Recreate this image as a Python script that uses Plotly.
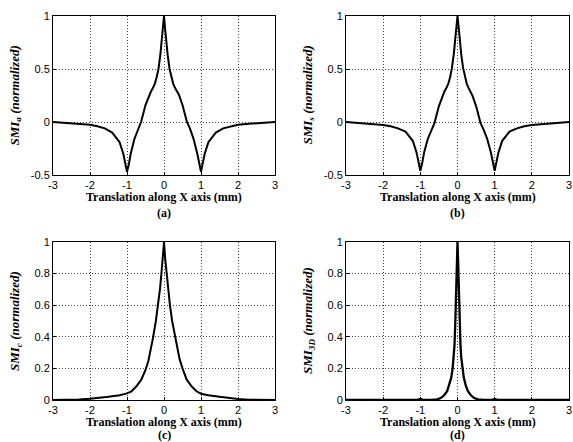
import plotly.graph_objects as go

W, H = 573, 442

# ---- data ----
xa = [-3.0, -2.6, -2.3, -2.0, -1.8, -1.6, -1.4, -1.3, -1.2, -1.1, -1.04, -1.0, -0.95, -0.9, -0.8, -0.7,
      -0.62, -0.5, -0.4, -0.35, -0.3, -0.25, -0.2, -0.15, -0.1, -0.06, -0.03, 0.0,
      0.03, 0.06, 0.1, 0.15, 0.2, 0.25, 0.3, 0.35, 0.4, 0.5, 0.62, 0.7, 0.8, 0.9, 0.95,
      1.0, 1.04, 1.1, 1.2, 1.3, 1.4, 1.6, 1.8, 2.0, 2.3, 2.6, 3.0]
ya = [0.0, -0.008, -0.016, -0.026, -0.04, -0.06, -0.10, -0.14, -0.19, -0.30, -0.40, -0.47, -0.40, -0.30, -0.16, -0.06,
      0.0, 0.16, 0.26, 0.29, 0.32, 0.36, 0.42, 0.50, 0.63, 0.76, 0.88, 1.0,
      0.88, 0.76, 0.63, 0.50, 0.42, 0.36, 0.32, 0.29, 0.26, 0.16, 0.0, -0.06, -0.16, -0.30, -0.40,
      -0.47, -0.40, -0.30, -0.19, -0.14, -0.10, -0.06, -0.04, -0.026, -0.016, -0.008, 0.0]

xb = [-3.0, -2.6, -2.3, -2.0, -1.8, -1.6, -1.4, -1.3, -1.2, -1.1, -1.04, -1.0, -0.95, -0.9, -0.8, -0.7,
      -0.62, -0.5, -0.4, -0.35, -0.3, -0.25, -0.2, -0.15, -0.1, -0.06, -0.03, 0.0,
      0.03, 0.06, 0.1, 0.15, 0.2, 0.25, 0.3, 0.35, 0.4, 0.5, 0.62, 0.7, 0.8, 0.9, 0.95,
      1.0, 1.04, 1.1, 1.2, 1.3, 1.4, 1.6, 1.8, 2.0, 2.3, 2.6, 3.0]
yb = [0.0, -0.01, -0.018, -0.028, -0.04, -0.06, -0.09, -0.13, -0.18, -0.29, -0.39, -0.46, -0.39, -0.29, -0.16, -0.07,
      -0.01, 0.15, 0.25, 0.29, 0.32, 0.36, 0.42, 0.51, 0.64, 0.78, 0.90, 1.0,
      0.90, 0.78, 0.64, 0.51, 0.42, 0.36, 0.32, 0.29, 0.25, 0.15, -0.01, -0.07, -0.16, -0.29, -0.39,
      -0.46, -0.39, -0.29, -0.18, -0.13, -0.09, -0.06, -0.04, -0.028, -0.018, -0.01, 0.0]

xc = [-3.0, -2.6, -2.3, -2.0, -1.8, -1.5, -1.2, -1.0, -0.88, -0.75, -0.61, -0.5, -0.42, -0.36, -0.3,
      -0.22, -0.16, -0.11, -0.07, -0.03, 0.0,
      0.03, 0.07, 0.11, 0.16, 0.22, 0.3, 0.36, 0.42, 0.5, 0.61, 0.75, 0.88, 1.0, 1.2, 1.5, 1.8, 2.0,
      2.3, 2.6, 3.0]
yc = [0.0, 0.0, 0.003, 0.008, 0.012, 0.02, 0.03, 0.042, 0.055, 0.085, 0.13, 0.19, 0.25, 0.31, 0.39,
      0.50, 0.60, 0.70, 0.80, 0.90, 1.0,
      0.90, 0.80, 0.70, 0.60, 0.50, 0.40, 0.31, 0.26, 0.20, 0.13, 0.085, 0.055, 0.04, 0.03, 0.02, 0.011, 0.007,
      0.002, 0.0, 0.0]

xd = [-3.0, -1.5, -1.1, -1.0, -0.9, -0.7, -0.55, -0.45, -0.36, -0.28, -0.22, -0.17, -0.13, -0.1,
      -0.08, -0.06, -0.04, -0.02, 0.0,
      0.02, 0.04, 0.06, 0.08, 0.1, 0.13, 0.17, 0.22, 0.28, 0.36, 0.45, 0.55, 0.7, 0.9, 1.0, 1.1, 1.5, 3.0]
yd = [0.0, 0.0, 0.0, 0.006, 0.0, 0.0, 0.004, 0.012, 0.03, 0.055, 0.094, 0.14, 0.20, 0.27,
      0.35, 0.48, 0.65, 0.85, 1.0,
      0.85, 0.65, 0.48, 0.35, 0.27, 0.20, 0.14, 0.094, 0.055, 0.03, 0.012, 0.004, 0.0, 0.0, 0.006, 0.0, 0.0, 0.0]

x_ticks = [-3, -2, -1, 0, 1, 2, 3]
x_ticktext = ["-3", "-2", "-1", "0", "1", "2", "3"]
y_ticks_top = [-0.5, 0, 0.5, 1]
y_ticktext_top = ["-0.5", "0", "0.5", "1"]
y_ticks_bot = [0, 0.2, 0.4, 0.6, 0.8, 1]
y_ticktext_bot = ["0", "0.2", "0.4", "0.6", "0.8", "1"]

y_labels = ["a", "s", "c", "3D"]
panel_letters = ["(a)", "(b)", "(c)", "(d)"]
x_title = "Translation along X axis (mm)"

# ---- layout geometry (pixels) ----
cols = [(53, 275), (346, 569)]
rows = [(16, 175), (242, 400)]

SERIF = "Liberation Serif, Times New Roman, serif"
SANS = "Liberation Sans, Arial, Helvetica, sans-serif"

series = [(xa, ya), (xb, yb), (xc, yc), (xd, yd)]

fig = go.Figure()
layout = dict(
    width=W, height=H, margin=dict(l=0, r=0, t=0, b=0, autoexpand=False),
    paper_bgcolor="white", plot_bgcolor="white", showlegend=False,
    annotations=[],
)

for i, (xs, ys) in enumerate(series):
    r, c = divmod(i, 2)
    (x0, x1), (y0, y1) = cols[c], rows[r]
    n = "" if i == 0 else str(i + 1)
    fig.add_trace(go.Scatter(x=xs, y=ys, mode="lines",
                             line=dict(color="black", width=2 if i < 3 else 2.3),
                             xaxis="x" + n, yaxis="y" + n, hoverinfo="skip"))
    common = dict(showline=True, mirror=True, linecolor="black", linewidth=1,
                  showgrid=True, gridcolor="#444", griddash="1px,2px", gridwidth=1,
                  zeroline=False, ticks="inside", ticklen=3, tickcolor="black",
                  ticklabeloverflow="allow",
                  tickfont=dict(family=SANS, size=11, color="black"), fixedrange=True)
    layout["xaxis" + n] = dict(common, domain=[x0 / W, x1 / W], range=[-3, 3],
                               tickvals=x_ticks, ticktext=x_ticktext,
                               anchor="y" + n)
    if r == 0:
        yt, ytt, yr = y_ticks_top, y_ticktext_top, [-0.5, 1]
    else:
        yt, ytt, yr = y_ticks_bot, y_ticktext_bot, [0, 1]
    layout["yaxis" + n] = dict(common, domain=[1 - y1 / H, 1 - y0 / H], range=yr,
                               tickvals=yt, ticktext=ytt, anchor="x" + n)
    cx = (x0 + x1) / 2
    layout["annotations"] += [
        dict(text="<b>" + x_title + "</b>", x=cx / W, y=1 - (y1 + 22) / H,
             xref="paper", yref="paper", xanchor="center", yanchor="middle",
             showarrow=False, font=dict(family=SERIF, size=12, color="black")),
        dict(text="<b>" + panel_letters[i] + "</b>", x=cx / W,
             y=1 - (y1 + (38 if r == 0 else 35)) / H,
             xref="paper", yref="paper", xanchor="center", yanchor="middle",
             showarrow=False, font=dict(family=SERIF, size=12, color="black")),
        dict(text="<b><i>SMI<sub>" + y_labels[i] + "</sub> (normalized)</i></b>",
             x=(x0 - 38) / W, y=1 - ((y0 + y1) / 2) / H, textangle=-90,
             xref="paper", yref="paper", xanchor="center", yanchor="middle",
             showarrow=False, font=dict(family=SERIF, size=13, color="black")),
    ]

fig.update_layout(**layout)
fig.write_html("out.html", config={"displayModeBar": False, "staticPlot": True},
               post_script="document.body.style.margin='0';document.body.style.overflow='hidden';")
